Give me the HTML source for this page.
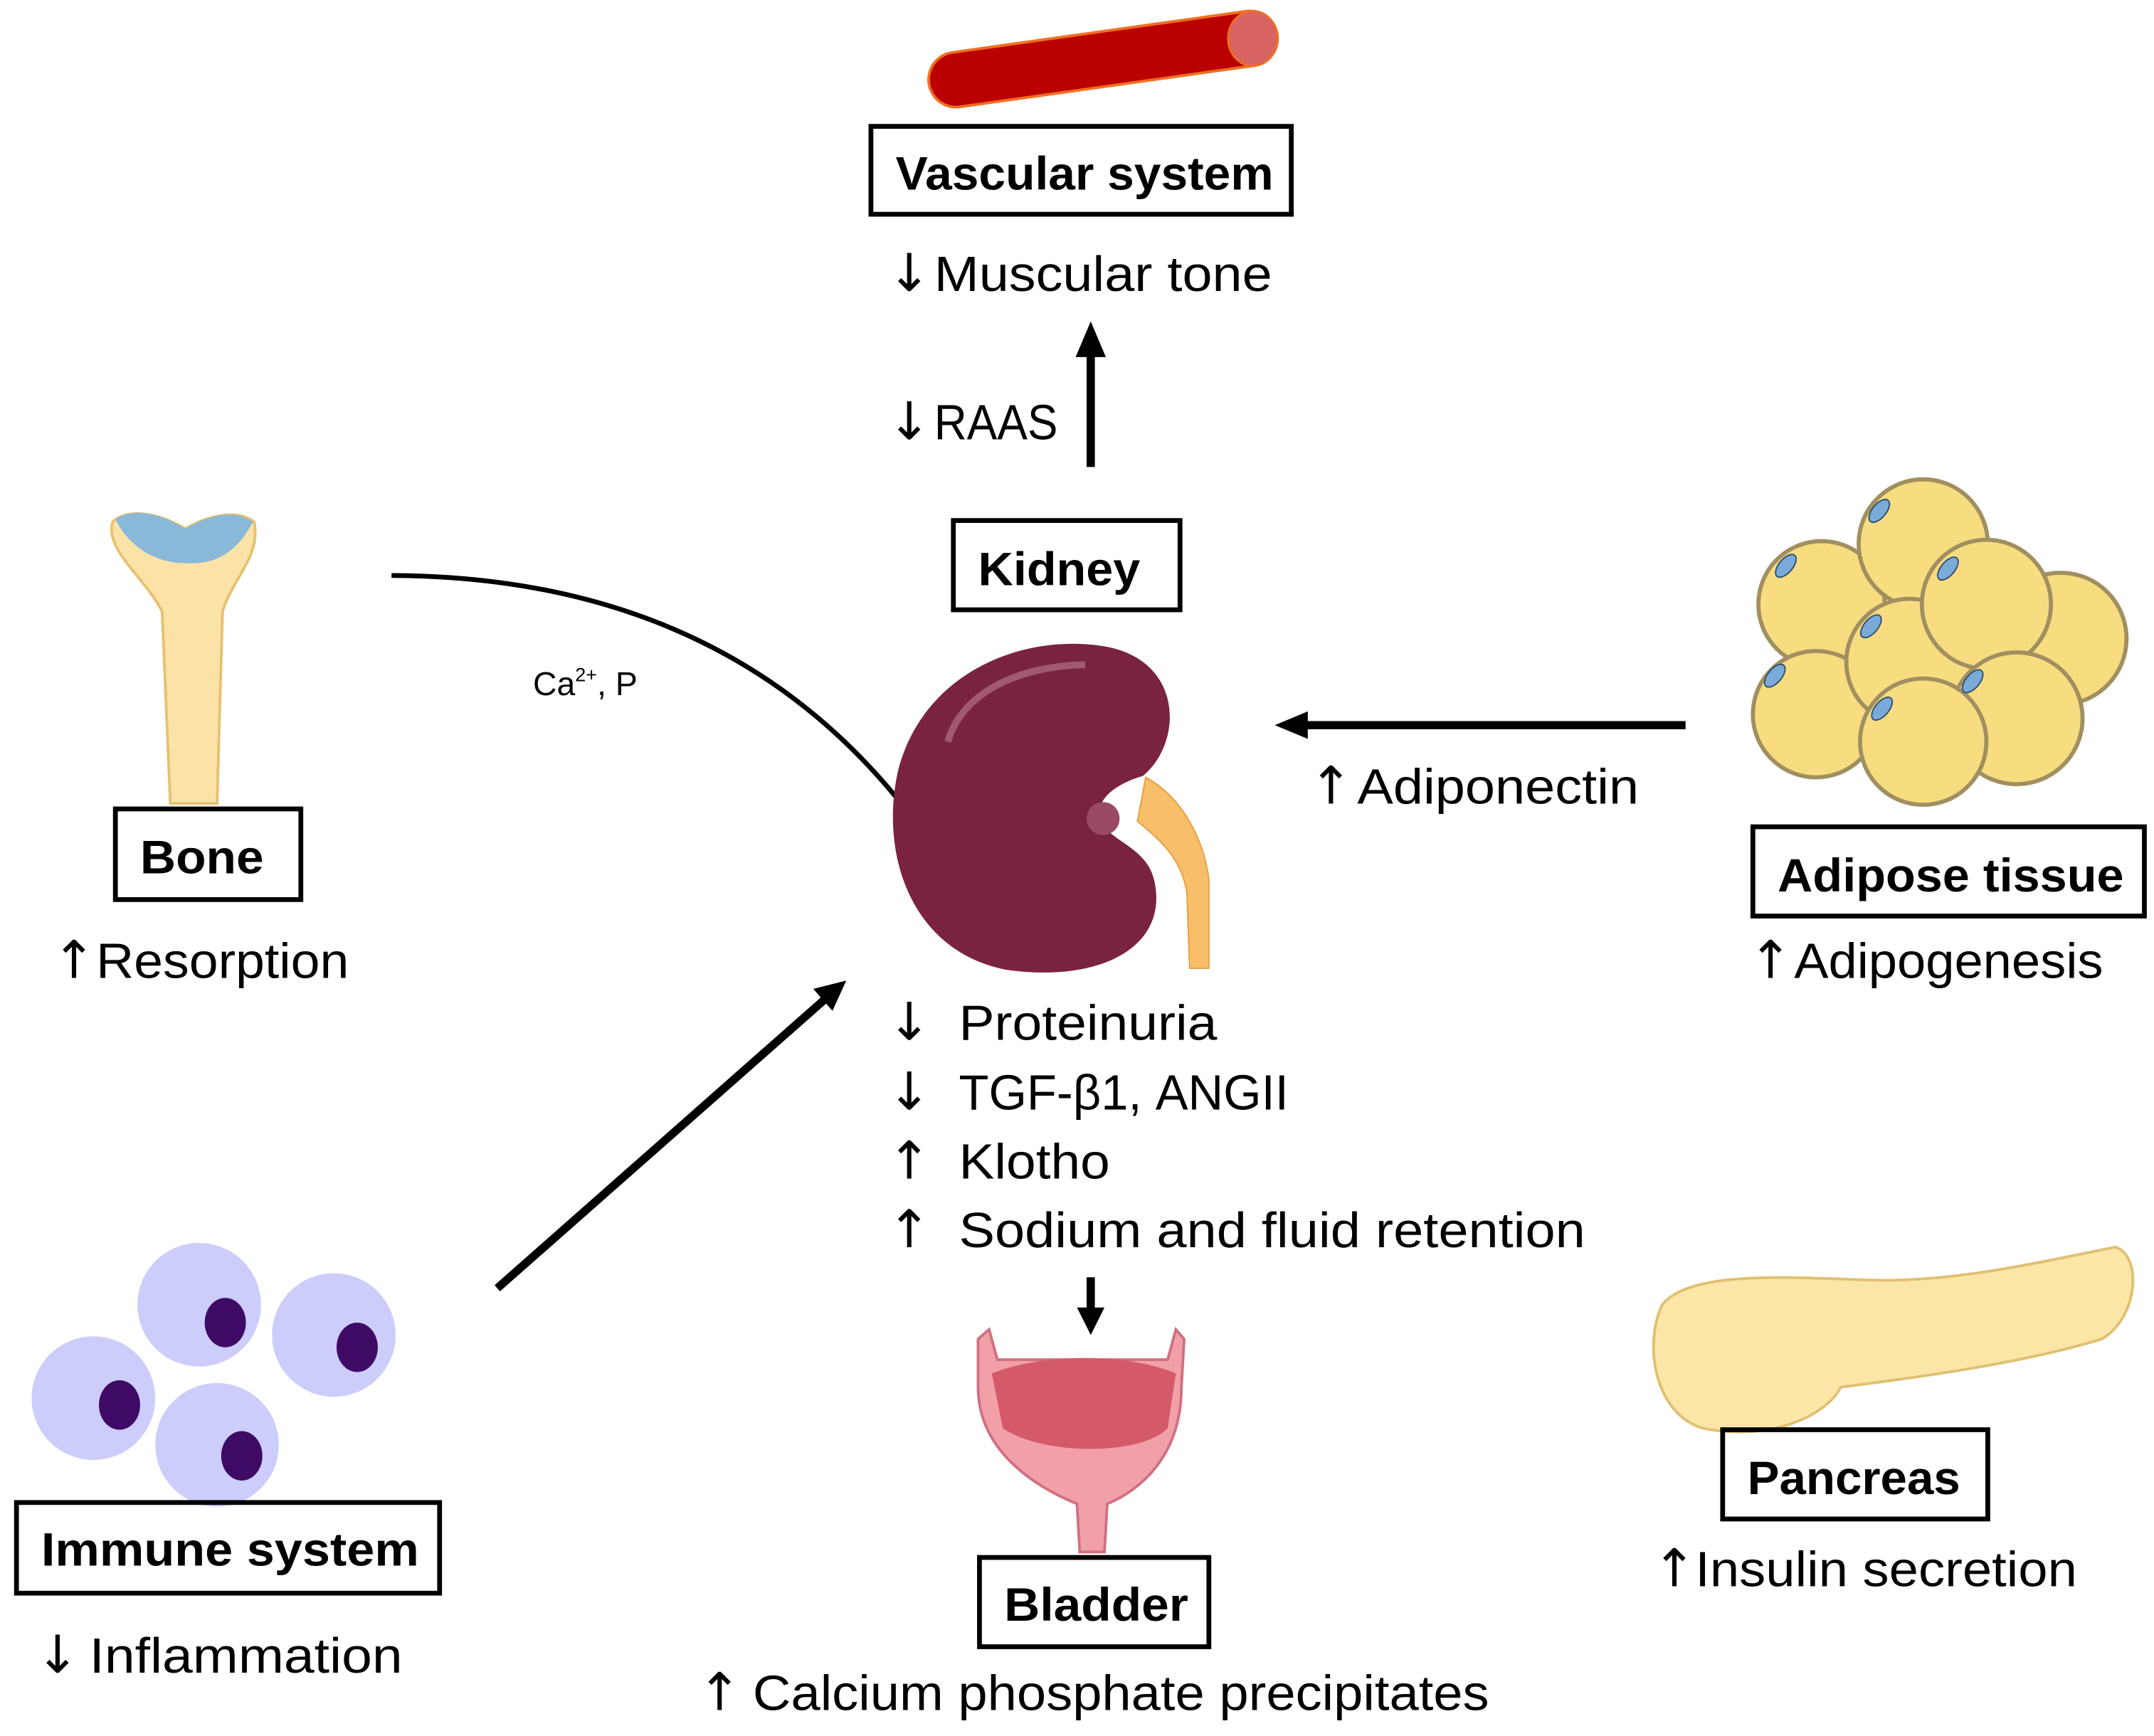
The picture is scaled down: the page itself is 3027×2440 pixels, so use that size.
<!DOCTYPE html>
<html><head><meta charset="utf-8"><style>html,body{margin:0;padding:0;background:#fff}svg{display:block}text{font-family:"Liberation Sans",sans-serif;fill:#000}.b{font-weight:bold}.ar{font-family:"DejaVu Sans",sans-serif;font-size:38px}</style></head>
<body>
<svg width="3027" height="2440" viewBox="0 0 1568 1264" preserveAspectRatio="none" xmlns="http://www.w3.org/2000/svg">
<!-- vessel -->
<line x1="696" y1="58" x2="910" y2="28" stroke="#f07020" stroke-width="42" stroke-linecap="round"/>
<line x1="696" y1="58" x2="910" y2="28" stroke="#bb0000" stroke-width="38" stroke-linecap="round"/>
<ellipse cx="912" cy="28" rx="18" ry="20" fill="#d86464" stroke="#f07020" stroke-width="1.5"/>
<rect x="634" y="92" width="306" height="64" fill="none" stroke="#000" stroke-width="3.5"/>
<text x="652" y="138" font-size="34" class="b" textLength="275" lengthAdjust="spacingAndGlyphs">Vascular system</text>
<text x="646" y="212" class="ar">↓</text><text x="680" y="212" font-size="36" textLength="246" lengthAdjust="spacingAndGlyphs">Muscular tone</text>
<line x1="794" y1="340" x2="794" y2="258" stroke="#000" stroke-width="6"/>
<path d="M783,260 L794,234 L805,260 Z" fill="#000"/>
<text x="646" y="320" class="ar">↓</text><text x="680" y="320" font-size="36" textLength="90" lengthAdjust="spacingAndGlyphs">RAAS</text>
<rect x="694" y="379" width="165" height="65" fill="none" stroke="#000" stroke-width="3.5"/>
<text x="712" y="426" font-size="34" class="b" textLength="118" lengthAdjust="spacingAndGlyphs">Kidney</text>
<!-- curve -->
<path d="M285,419 Q520,420 652,580" fill="none" stroke="#000" stroke-width="3.5"/>
<text x="388" y="506" font-size="24">Ca<tspan font-size="14" dy="-10">2+</tspan><tspan dy="10">, P</tspan></text>
<!-- kidney -->
<path d="M832,565 C862,540 862,478 800,470 C740,462 672,492 654,560 C640,620 662,692 732,706 C800,716 852,690 840,640 C834,616 806,612 800,596 C798,580 815,570 832,565 Z" fill="#7a2340"/>
<path d="M690,540 C700,505 740,485 790,484" stroke="#a05a70" stroke-width="5" fill="none"/>
<path d="M834,566 C860,580 876,610 880,640 L880,705 L866,705 L864,650 C860,625 845,612 828,598 Z" fill="#f8be6a" stroke="#e8a040" stroke-width="1"/>
<circle cx="803" cy="596" r="12" fill="#9a4a64"/>
<!-- list -->
<text x="646" y="757" class="ar">↓</text><text x="698" y="757" font-size="36" textLength="188" lengthAdjust="spacingAndGlyphs">Proteinuria</text>
<text x="646" y="808" class="ar">↓</text><text x="698" y="808" font-size="36" textLength="240" lengthAdjust="spacingAndGlyphs">TGF-β1, ANGII</text>
<text x="646" y="858" class="ar">↑</text><text x="698" y="858" font-size="36" textLength="110" lengthAdjust="spacingAndGlyphs">Klotho</text>
<text x="646" y="908" class="ar">↑</text><text x="698" y="908" font-size="36" textLength="456" lengthAdjust="spacingAndGlyphs">Sodium and fluid retention</text>
<line x1="794" y1="930" x2="794" y2="955" stroke="#000" stroke-width="6"/>
<path d="M784,952 L794,972 L804,952 Z" fill="#000"/>
<!-- bladder -->
<path d="M712,975 L720,968 L726,990 L850,990 L856,968 L862,975 L860,1010 C860,1060 830,1085 806,1095 L804,1130 L786,1130 L784,1095 C760,1085 712,1060 712,1010 Z" fill="#f2a0a8" stroke="#d07080" stroke-width="2"/>
<path d="M722,1000 C760,985 820,985 856,1000 L850,1040 C830,1060 760,1060 730,1040 Z" fill="#d45a6a"/>
<rect x="713" y="1134" width="167" height="65" fill="none" stroke="#000" stroke-width="3.5"/>
<text x="731" y="1180" font-size="34" class="b" textLength="134" lengthAdjust="spacingAndGlyphs">Bladder</text>
<text x="508" y="1245" class="ar">↑</text><text x="548" y="1245" font-size="36" textLength="536" lengthAdjust="spacingAndGlyphs">Calcium phosphate precipitates</text>
<!-- bone -->
<path d="M82,380 C95,368 120,376 135,385 C150,376 172,370 185,380 C190,405 170,420 162,445 L158,585 L124,585 L118,445 C105,420 76,400 82,380 Z" fill="#fbe3a8" stroke="#e8c070" stroke-width="2"/>
<path d="M84,378 C100,368 120,376 135,385 C150,376 170,370 184,380 C175,398 160,412 135,410 C110,410 92,395 84,378 Z" fill="#8ab8d8"/>
<rect x="84" y="589" width="135" height="66" fill="none" stroke="#000" stroke-width="3.5"/>
<text x="102" y="636" font-size="34" class="b" textLength="90" lengthAdjust="spacingAndGlyphs">Bone</text>
<text x="38" y="712" class="ar">↑</text><text x="70" y="712" font-size="36" textLength="184" lengthAdjust="spacingAndGlyphs">Resorption</text>
<!-- adiponectin -->
<line x1="1227" y1="528" x2="950" y2="528" stroke="#000" stroke-width="6"/>
<path d="M952,518 L928,528 L952,538 Z" fill="#000"/>
<text x="953" y="585" class="ar">↑</text><text x="988" y="585" font-size="36" textLength="205" lengthAdjust="spacingAndGlyphs">Adiponectin</text>
<!-- adipose -->
<g fill="#f8dc80" stroke="#a09060" stroke-width="3">
<circle cx="1326" cy="440" r="46"/><circle cx="1400" cy="396" r="47"/><circle cx="1500" cy="465" r="48"/>
<circle cx="1322" cy="520" r="46"/><circle cx="1390" cy="482" r="46"/><circle cx="1446" cy="440" r="47"/>
<circle cx="1468" cy="523" r="48"/><circle cx="1400" cy="540" r="46"/>
</g>
<g fill="#7aaad8" stroke="#305070" stroke-width="1">
<ellipse cx="1300" cy="412" rx="5" ry="10" transform="rotate(40 1300 412)"/><ellipse cx="1368" cy="372" rx="5" ry="10" transform="rotate(40 1368 372)"/>
<ellipse cx="1418" cy="414" rx="5" ry="10" transform="rotate(40 1418 414)"/><ellipse cx="1362" cy="456" rx="5" ry="10" transform="rotate(40 1362 456)"/>
<ellipse cx="1292" cy="492" rx="5" ry="10" transform="rotate(40 1292 492)"/><ellipse cx="1370" cy="516" rx="5" ry="10" transform="rotate(40 1370 516)"/>
<ellipse cx="1436" cy="496" rx="5" ry="10" transform="rotate(40 1436 496)"/>
</g>
<rect x="1276" y="602" width="285" height="65" fill="none" stroke="#000" stroke-width="3.5"/>
<text x="1294" y="649" font-size="34" class="b" textLength="252" lengthAdjust="spacingAndGlyphs">Adipose tissue</text>
<text x="1273" y="712" class="ar">↑</text><text x="1306" y="712" font-size="36" textLength="225" lengthAdjust="spacingAndGlyphs">Adipogenesis</text>
<!-- pancreas -->
<path d="M1210,950 C1230,925 1300,930 1360,932 C1420,934 1480,920 1540,908 C1560,915 1556,960 1530,975 C1480,990 1420,1000 1340,1010 C1330,1030 1290,1050 1240,1040 C1205,1030 1196,980 1210,950 Z" fill="#fbe6a8" stroke="#e0c070" stroke-width="2"/>
<rect x="1254" y="1041" width="193" height="65" fill="none" stroke="#000" stroke-width="3.5"/>
<text x="1272" y="1088" font-size="34" class="b" textLength="155" lengthAdjust="spacingAndGlyphs">Pancreas</text>
<text x="1203" y="1155" class="ar">↑</text><text x="1234" y="1155" font-size="36" textLength="278" lengthAdjust="spacingAndGlyphs">Insulin secretion</text>
<!-- immune -->
<line x1="362" y1="938" x2="600" y2="728" stroke="#000" stroke-width="6"/>
<path d="M592,720 L616,714 L606,736 Z" fill="#000"/>
<g fill="#cccdfb">
<circle cx="145" cy="950" r="45"/><circle cx="243" cy="972" r="45"/><circle cx="68" cy="1018" r="45"/><circle cx="158" cy="1052" r="45"/>
</g>
<g fill="#3f0a66">
<ellipse cx="164" cy="963" rx="15" ry="18"/><ellipse cx="260" cy="981" rx="15" ry="18"/><ellipse cx="87" cy="1023" rx="15" ry="18"/><ellipse cx="176" cy="1060" rx="15" ry="18"/>
</g>
<rect x="12" y="1094" width="308" height="66" fill="none" stroke="#000" stroke-width="3.5"/>
<text x="30" y="1140" font-size="34" class="b" textLength="275" lengthAdjust="spacingAndGlyphs">Immune system</text>
<text x="26" y="1218" class="ar">↓</text><text x="65" y="1218" font-size="36" textLength="228" lengthAdjust="spacingAndGlyphs">Inflammation</text>
</svg>
</body></html>
